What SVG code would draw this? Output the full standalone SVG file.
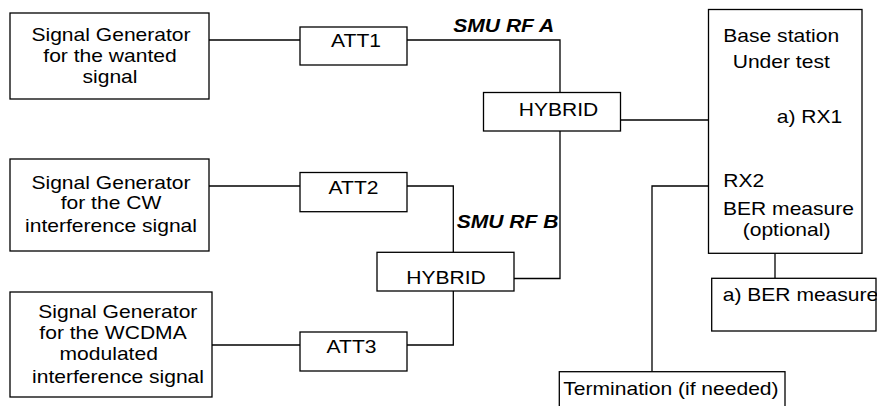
<svg xmlns="http://www.w3.org/2000/svg" width="877" height="406" viewBox="0 0 877 406">
<style>
rect.n{fill:#fff;stroke:#000;stroke-width:1.3}
#connectors path{fill:none;stroke:#000;stroke-width:1.3}
text{font-family:"Liberation Sans",Arial,sans-serif;font-size:18px;fill:#000}
text.c{text-anchor:middle}
text.lbl{font-weight:bold;font-style:italic}
</style>
<rect width="877" height="406" fill="#fff"/>
<g id="connectors">
<path d="M209 40H300"/>
<path d="M407 40H560V92.5"/>
<path d="M620.5 120H708.5"/>
<path d="M560 131V278.5H514"/>
<path d="M209 186H300"/>
<path d="M407 186H453.3V252.3"/>
<path d="M453.3 291V345H407"/>
<path d="M212 345H300"/>
<path d="M775 253.3V278.3"/>
<path d="M708.5 186H652V371.7"/>
</g>
<g id="sg1">
<rect class="n" x="10" y="13" width="199" height="86"/>
<text class="c" transform="translate(111,40.7) scale(1.17,1)">Signal Generator</text>
<text class="c" transform="translate(110,62.3) scale(1.17,1)">for the wanted</text>
<text class="c" transform="translate(110,82.7) scale(1.17,1)">signal</text>
</g>
<g id="sg2">
<rect class="n" x="10" y="159" width="199" height="92"/>
<text class="c" transform="translate(111,189.3) scale(1.17,1)">Signal Generator</text>
<text class="c" transform="translate(111,209.3) scale(1.17,1)">for the CW</text>
<text class="c" transform="translate(111,231.7) scale(1.17,1)">interference signal</text>
</g>
<g id="sg3">
<rect class="n" x="10" y="292" width="202" height="105"/>
<text class="c" transform="translate(117.8,318.3) scale(1.17,1)">Signal Generator</text>
<text class="c" transform="translate(113,339) scale(1.17,1)">for the WCDMA</text>
<text class="c" transform="translate(108.7,360) scale(1.17,1)">modulated</text>
<text class="c" transform="translate(118,383.3) scale(1.17,1)">interference signal</text>
</g>
<g id="att1">
<rect class="n" x="300" y="27" width="107" height="38"/>
<text class="c" transform="translate(356,46.7) scale(1.17,1)">ATT1</text>
</g>
<g id="att2">
<rect class="n" x="300" y="172.5" width="107" height="39.2"/>
<text class="c" transform="translate(353.5,194.3) scale(1.17,1)">ATT2</text>
</g>
<g id="att3">
<rect class="n" x="300" y="332" width="107" height="39"/>
<text class="c" transform="translate(351.5,352.7) scale(1.17,1)">ATT3</text>
</g>
<g id="hybrid1">
<rect class="n" x="483.5" y="92.5" width="137" height="38.5"/>
<text class="c" transform="translate(558.5,115.7) scale(1.17,1)">HYBRID</text>
</g>
<g id="hybrid2">
<rect class="n" x="377" y="252.3" width="137" height="38.7"/>
<text class="c" transform="translate(446,284) scale(1.17,1)">HYBRID</text>
</g>
<g id="labels">
<text class="lbl" transform="translate(453.3,32.3) scale(1.17,1)">SMU RF A</text>
<text class="lbl" transform="translate(456.7,228.3) scale(1.17,1)">SMU RF B</text>
</g>
<g id="bs">
<rect class="n" x="708.5" y="9.5" width="153.5" height="243.8"/>
<text transform="translate(723.3,42.3) scale(1.17,1)">Base station</text>
<text transform="translate(732.7,67.7) scale(1.17,1)">Under test</text>
<text transform="translate(776.7,123) scale(1.17,1)">a) RX1</text>
<text transform="translate(723.3,187.3) scale(1.17,1)">RX2</text>
<text transform="translate(723,214.5) scale(1.17,1)">BER measure</text>
<text transform="translate(742.7,235.5) scale(1.17,1)">(optional)</text>
</g>
<g id="ber">
<rect class="n" x="711.7" y="278.3" width="164.3" height="52.7"/>
<text transform="translate(722.7,301) scale(1.17,1)">a) BER measure</text>
</g>
<g id="term">
<rect class="n" x="559.3" y="371.7" width="225.7" height="40"/>
<text transform="translate(563.3,395) scale(1.17,1)">Termination (if needed)</text>
</g>
</svg>
